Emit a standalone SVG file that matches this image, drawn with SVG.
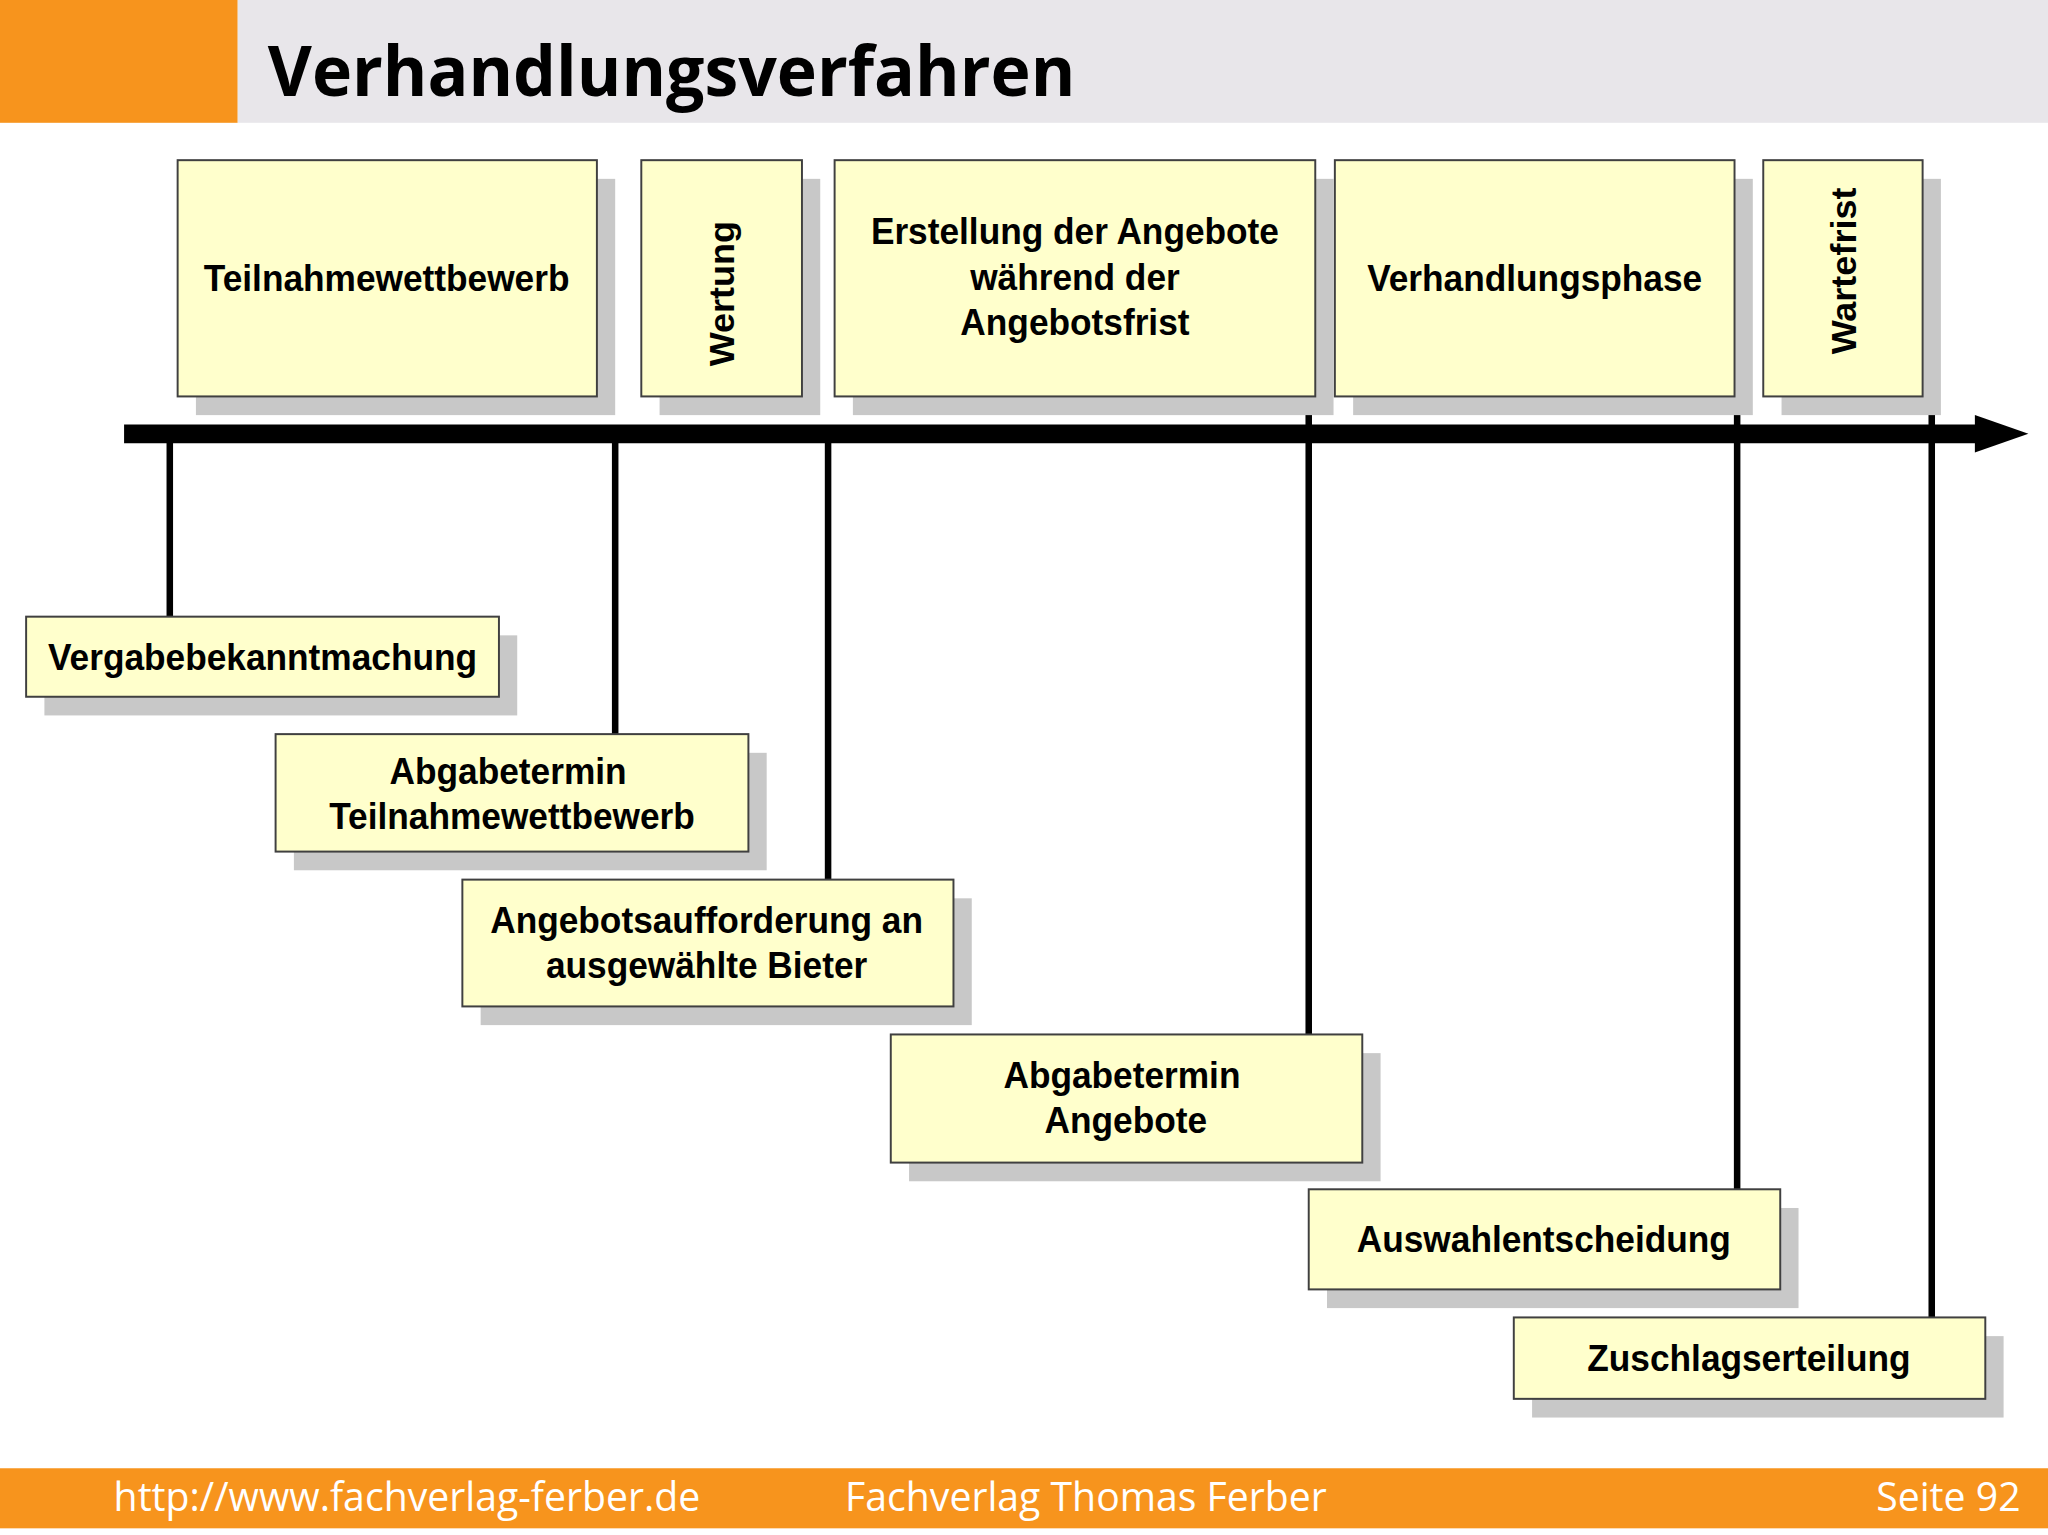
<svg xmlns="http://www.w3.org/2000/svg" width="2048" height="1535" viewBox="0 0 2048 1535">
<style>
.sh{fill:#c8c8c8}
.bx{fill:#ffffcc;stroke:#404040;stroke-width:1.5}
.t{font-family:"Liberation Sans",Arial,sans-serif;font-weight:bold;font-size:27px;fill:#000;text-anchor:middle}
.f{font-family:"Open Sans","Liberation Sans",sans-serif;font-size:30px;fill:#fff}
.v{stroke:#000;stroke-width:5}
</style>
<rect width="2048" height="1535" fill="#fff"/>
<g transform="scale(1.30612,1.33478)">
<rect x="0" y="0" width="182" height="92" fill="#f7941d"/>
<rect x="182" y="0" width="1386" height="92" fill="#e8e6ea"/>
<text x="205" y="72" font-family="'Open Sans','Liberation Sans',sans-serif" font-weight="bold" font-size="52" fill="#000">Verhandlungsverfahren</text>
<g id="connectors">
<line x1="95" y1="325" x2="1518" y2="325" stroke="#000" stroke-width="14"/>
<polygon points="1512,311 1553,325 1512,339" fill="#000"/>
<line class="v" x1="130" y1="325" x2="130" y2="462"/>
<line class="v" x1="471" y1="325" x2="471" y2="550"/>
<line class="v" x1="634" y1="325" x2="634" y2="659"/>
<line class="v" x1="1002" y1="303" x2="1002" y2="775"/>
<line class="v" x1="1330" y1="303" x2="1330" y2="891"/>
<line class="v" x1="1479" y1="303" x2="1479" y2="987"/>
</g>
<g id="n1"><rect class="sh" x="150" y="134" width="321" height="177"/><rect class="bx" x="136" y="120" width="321" height="177"/><text class="t" x="296" y="218">Teilnahmewettbewerb</text></g>
<g id="n2"><rect class="sh" x="505" y="134" width="123" height="177"/><rect class="bx" x="491" y="120" width="123" height="177"/><text class="t" transform="translate(562,220) rotate(-90)">Wertung</text></g>
<g id="n3"><rect class="sh" x="653" y="134" width="368" height="177"/><rect class="bx" x="639" y="120" width="368" height="177"/><text class="t" x="823" y="183">Erstellung der Angebote</text><text class="t" x="823" y="217">während der</text><text class="t" x="823" y="251">Angebotsfrist</text></g>
<g id="n4"><rect class="sh" x="1036" y="134" width="306" height="177"/><rect class="bx" x="1022" y="120" width="306" height="177"/><text class="t" x="1175" y="218">Verhandlungsphase</text></g>
<g id="n5"><rect class="sh" x="1364" y="134" width="122" height="177"/><rect class="bx" x="1350" y="120" width="122" height="177"/><text class="t" transform="translate(1421,203) rotate(-90)">Wartefrist</text></g>
<g id="n6"><rect class="sh" x="34" y="476" width="362" height="60"/><rect class="bx" x="20" y="462" width="362" height="60"/><text class="t" x="201" y="502">Vergabebekanntmachung</text></g>
<g id="n7"><rect class="sh" x="225" y="564" width="362" height="88"/><rect class="bx" x="211" y="550" width="362" height="88"/><text class="t" x="389" y="587">Abgabetermin</text><text class="t" x="392" y="621">Teilnahmewettbewerb</text></g>
<g id="n8"><rect class="sh" x="368" y="673" width="376" height="95"/><rect class="bx" x="354" y="659" width="376" height="95"/><text class="t" x="541" y="699">Angebotsaufforderung an</text><text class="t" x="541" y="733">ausgewählte Bieter</text></g>
<g id="n9"><rect class="sh" x="696" y="789" width="361" height="96"/><rect class="bx" x="682" y="775" width="361" height="96"/><text class="t" x="859" y="815">Abgabetermin</text><text class="t" x="862" y="849">Angebote</text></g>
<g id="n10"><rect class="sh" x="1016" y="905" width="361" height="75"/><rect class="bx" x="1002" y="891" width="361" height="75"/><text class="t" x="1182" y="938">Auswahlentscheidung</text></g>
<g id="n11"><rect class="sh" x="1173" y="1001" width="361" height="61"/><rect class="bx" x="1159" y="987" width="361" height="61"/><text class="t" x="1339" y="1027">Zuschlagserteilung</text></g>
<rect x="0" y="1100" width="1568" height="45" fill="#f7941d"/>
<text class="f" x="87" y="1132">http://www.fachverlag-ferber.de</text>
<text class="f" x="647" y="1132">Fachverlag Thomas Ferber</text>
<text class="f" x="1547" y="1132" text-anchor="end">Seite 92</text>
</g>
</svg>
